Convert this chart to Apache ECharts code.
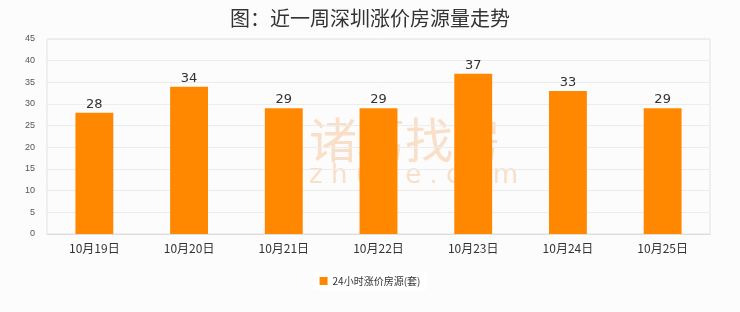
<!DOCTYPE html>
<html><head><meta charset="utf-8">
<script src="https://cdn.jsdelivr.net/npm/echarts@6/dist/echarts.min.js"></script>
<style>html,body{margin:0;padding:0;background:#fcfcfc}#c{width:740px;height:312px}</style>
</head><body><div id="c"></div>
<script>
const categories = ['10月19日','10月20日','10月21日','10月22日','10月23日','10月24日','10月25日'];
const values = [28, 34, 29, 29, 37, 33, 29];
const seriesName = '24小时涨价房源(套)';
const titleText = '图：近一周深圳涨价房源量走势';

const chart = echarts.init(document.getElementById('c'), null, {renderer:'canvas'});
chart.setOption({
  backgroundColor: '#fcfcfc',
  animation: false,
  title: {
    text: titleText, left: 'center', top: 3,
    textStyle: {fontFamily: 'Noto Sans CJK SC', fontSize: 20, fontWeight: 'normal', color: '#333'}
  },
  graphic: [
    {type:'text', left: 309, top: 116, z: 0, silent: true,
     style:{text:'诸葛找房', font:'48px "Noto Sans CJK SC"', fill:'#f9dfc7'}},
    {type:'text', left: 309, top: 163, z: 0, silent: true,
     style:{text:'z h u g e . c o m', font:'26px "DejaVu Sans"', fill:'#f9dfc7'}}
  ],
  grid: {left: 47, right: 30, top: 39, bottom: 78, show: true, borderColor: '#e3e3e3', borderWidth: 1, backgroundColor: 'transparent'},
  legend: {
    data: [seriesName], bottom: 22, left: 'center', itemWidth: 8, itemHeight: 8, icon: 'rect',
    backgroundColor: '#fff', padding: [4, 6],
    textStyle: {fontSize: 10, color: '#333', fontFamily: 'Noto Sans CJK SC'}
  },
  xAxis: {
    type: 'category', data: categories,
    axisLine: {lineStyle: {color: '#ddd'}},
    axisTick: {show: false},
    axisLabel: {color: '#333', fontSize: 12, margin: 8, fontFamily: 'Noto Sans CJK SC'}
  },
  yAxis: {
    type: 'value', min: 0, max: 45, interval: 5,
    axisLine: {show: false}, axisTick: {show: false},
    axisLabel: {color: '#555', fontSize: 9, margin: 12},
    splitLine: {lineStyle: {color: '#ececec'}}
  },
  series: [{
    name: seriesName, type: 'bar', data: values, barWidth: '40%',
    itemStyle: {color: '#ff8800'},
    label: {show: true, position: 'top', color: '#333', fontSize: 13, distance: 2, fontFamily: 'DejaVu Sans'}
  }]
});
</script></body></html>
